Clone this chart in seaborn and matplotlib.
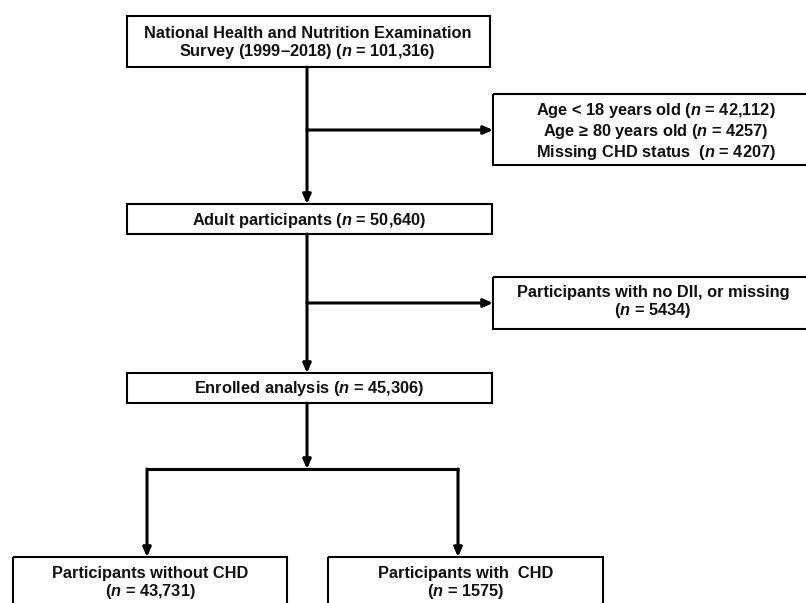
import matplotlib
matplotlib.use("Agg")
import matplotlib.pyplot as plt
from matplotlib.patches import Rectangle
import seaborn as sns

# ---- data (flowchart contents) ----
box_names = ["source", "excluded1", "adults", "excluded2", "enrolled", "no_chd", "chd"]
box_texts = [
    "National Health and Nutrition Examination\nSurvey (1999\u20132018) ($\\mathit{n}$ = 101,316)",
    "Age < 18 years old ($\\mathit{n}$ = 42,112)\nAge \u2265 80 years old ($\\mathit{n}$ = 4257)\nMissing CHD status  ($\\mathit{n}$ = 4207)",
    "Adult participants ($\\mathit{n}$ = 50,640)",
    "Participants with no DII, or missing\n($\\mathit{n}$ = 5434)",
    "Enrolled analysis ($\\mathit{n}$ = 45,306)",
    "Participants without CHD\n($\\mathit{n}$ = 43,731)",
    "Participants with  CHD\n($\\mathit{n}$ = 1575)",
]
counts = [101316, 42112 + 4257 + 4207, 50640, 5434, 45306, 43731, 1575]

# ---- layout (pixel coordinates: x0, y0, x1, y1, text-center-y) ----
layout = {
    "source":    (127, 16, 490, 67, 43.5),
    "excluded1": (493, 94, 812, 165, 131.5),
    "adults":    (127, 204, 492, 234, 220),
    "excluded2": (493, 277, 812, 329, 302.5),
    "enrolled":  (127, 373, 492, 403, 389),
    "no_chd":    (13, 557, 287, 640, 583.5),
    "chd":       (328, 557, 603, 640, 583.5),
}
text_x = {"source": 307.5, "excluded1": 656, "adults": 309.5, "excluded2": 653,
          "enrolled": 309.5, "no_chd": 150, "chd": 466}

sns.set_theme(style="white")
plt.rcParams["font.family"] = ["Liberation Sans", "DejaVu Sans"]
plt.rcParams["mathtext.fontset"] = "custom"
plt.rcParams["mathtext.rm"] = "Liberation Sans:bold"
plt.rcParams["mathtext.bf"] = "Liberation Sans:bold"
plt.rcParams["mathtext.it"] = "Liberation Sans:italic:bold"

fig = plt.figure(figsize=(8.06, 6.03), dpi=100)
ax = fig.add_axes([0, 0, 1, 1])
ax.set_xlim(0, 806)
ax.set_ylim(603, 0)
ax.axis("off")

fs = 11.8
for name, txt in zip(box_names, box_texts):
    x0, y0, x1, y1, ty = layout[name]
    ax.add_patch(Rectangle((x0, y0), x1 - x0, y1 - y0, fill=False,
                           edgecolor="black", linewidth=1.5, zorder=2))
    ax.text(text_x[name], ty, txt, ha="center", va="center", fontsize=fs,
            fontweight="bold", color="#111111", linespacing=1.12, zorder=3)

lw = 2.2

def line(xs, ys):
    ax.plot(xs, ys, color="black", linewidth=lw, solid_capstyle="butt", zorder=1)

def arrow(x0, y0, x1, y1):
    ax.annotate("", xy=(x1, y1), xytext=(x0, y0),
                arrowprops=dict(arrowstyle="-|>,head_length=0.45,head_width=0.2",
                                color="black", lw=lw, shrinkA=0, shrinkB=0), zorder=1)

# main spine
arrow(307, 67, 307, 204)
arrow(307, 130, 493, 130)
arrow(307, 234, 307, 373)
arrow(307, 303, 493, 303)
arrow(307, 403, 307, 469)
line([146, 459], [469, 469])
arrow(147, 469, 147, 557)
arrow(458, 469, 458, 557)

fig.savefig("out.png", dpi=100)
